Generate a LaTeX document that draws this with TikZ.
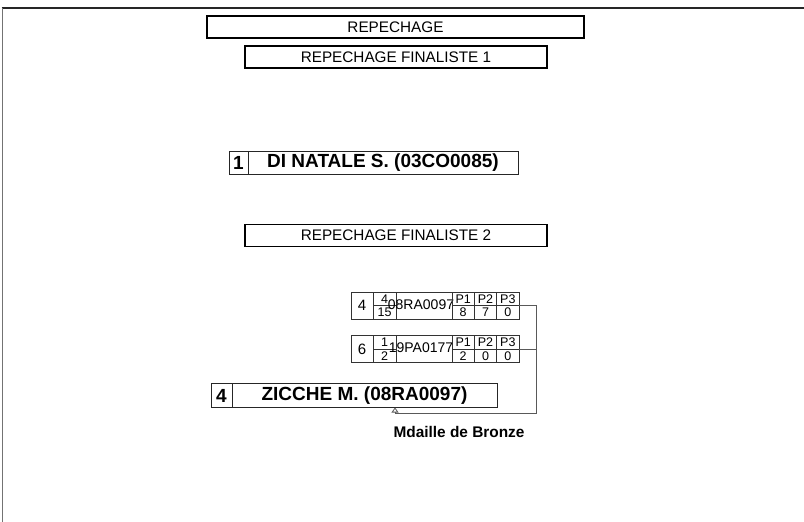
\documentclass[tikz,border=0pt]{standalone}
\usepackage{fontspec}
\setmainfont{Liberation Sans}
\usetikzlibrary{positioning,arrows.meta}

\begin{document}
\begin{tikzpicture}[
    x=1pt, y=-1pt,
    node distance=0pt,
    banner/.style={rectangle, draw, line width=1.8pt, minimum height=22pt, inner sep=0pt,
                   font=\fontsize{15.3}{16}\selectfont},
    rank/.style={rectangle, draw=black!85, line width=0.9pt, minimum height=23pt, inner sep=0pt,
                 outer sep=0pt, font=\bfseries\fontsize{19}{20}\selectfont},
    cell/.style={rectangle, draw=black!80, line width=0.7pt, inner sep=0pt, outer sep=0pt},
    half/.style={cell, minimum width=22.33pt, minimum height=13.5pt, font=\fontsize{12.5}{13}\selectfont},
    seed/.style={cell, minimum width=22pt, minimum height=27pt, font=\fontsize{15}{16}\selectfont},
    link/.style={draw=black!65, line width=0.8pt}
]
\useasboundingbox (0,0) rectangle (804,522);
% page frame
\draw[black!85, line width=1.5pt] (1.5,8) -- (804,8);
\draw[black!55, line width=1.5pt] (2.5,8) -- (2.5,522);

% headings
\node[banner, minimum width=377pt] (title) at (395.5,27) {REPECHAGE};
\node[banner, minimum width=302pt] (fin1) at (396,57) {REPECHAGE FINALISTE 1};
\node[banner, minimum width=302pt] (fin2) at (396,235.5) {REPECHAGE FINALISTE 2};

% finaliste 1
\node[rank, minimum width=19pt] (rankA) at (238.5,162.5) {1};
\node[rank, minimum width=270pt, right=0pt of rankA] (winA) {DI NATALE S. (03CO0085)};

% match 1
\node[seed] (seedA) at (362,305.5) {4};
\node[half, minimum width=23pt, anchor=north west] (fracAt) at (seedA.north east) {4};
\node[half, minimum width=23pt, anchor=north west] (fracAb) at (fracAt.south west) {15};
\node[cell, minimum width=56pt, minimum height=27pt, anchor=north west] (nameA) at (fracAt.north east) {};
\node[font=\fontsize{14}{15}\selectfont, xshift=-3pt, yshift=1pt] (idA) at (nameA) {08RA0097};
\node[half, anchor=north west] (p1At) at (nameA.north east) {P1};
\node[half, right=0pt of p1At] (p2At) {P2};
\node[half, right=0pt of p2At] (p3At) {P3};
\node[half, anchor=north west] (p1Ab) at (p1At.south west) {8};
\node[half, right=0pt of p1Ab] (p2Ab) {7};
\node[half, right=0pt of p2Ab] (p3Ab) {0};

% match 2
\node[seed] (seedB) at (362,349) {6};
\node[half, minimum width=23pt, anchor=north west] (fracBt) at (seedB.north east) {1};
\node[half, minimum width=23pt, anchor=north west] (fracBb) at (fracBt.south west) {2};
\node[cell, minimum width=56pt, minimum height=27pt, anchor=north west] (nameB) at (fracBt.north east) {};
\node[font=\fontsize{14}{15}\selectfont, xshift=-3pt, yshift=1pt] (idB) at (nameB) {19PA0177};
\node[half, anchor=north west] (p1Bt) at (nameB.north east) {P1};
\node[half, right=0pt of p1Bt] (p2Bt) {P2};
\node[half, right=0pt of p2Bt] (p3Bt) {P3};
\node[half, anchor=north west] (p1Bb) at (p1Bt.south west) {2};
\node[half, right=0pt of p1Bb] (p2Bb) {0};
\node[half, right=0pt of p2Bb] (p3Bb) {0};

% finaliste 2
\node[rank, minimum width=21pt, minimum height=24pt] (rankB) at (221.5,395.5) {4};
\node[rank, minimum width=265pt, minimum height=24pt, right=0pt of rankB] (winB) {ZICCHE M. (08RA0097)};
\node[font=\bfseries\fontsize{15.4}{17}\selectfont, anchor=west] (medal) at (390,432) {Mdaille de Bronze};

% bracket
\coordinate (turn) at (536,413);
\coordinate (entry) at (395,407.5);
\draw[link, -{Triangle[open, length=5pt, width=7pt]}] (p3At.south east) -| (turn) -| (entry);
\draw[link] (p3Bt.south east) -- (p3Bt.south east -| turn);
\end{tikzpicture}
\end{document}
